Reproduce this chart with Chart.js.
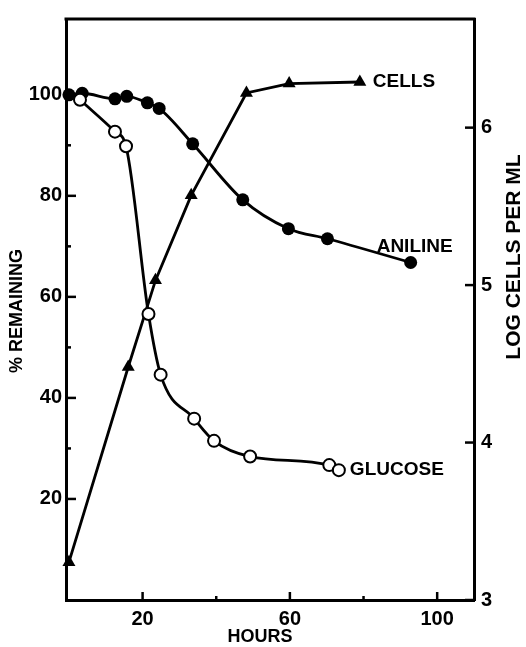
<!DOCTYPE html>
<html>
<head>
<meta charset="utf-8">
<style>
  html, body { margin: 0; padding: 0; background: #fff; }
</style>
</head>
<body>
<canvas id="growthChart" width="526" height="647"></canvas>

<script src="https://cdn.jsdelivr.net/npm/chart.js@4/dist/chart.umd.min.js"></script>

<script>
	// values
	const anilineHours = [0, 3.6, 12.5, 15.7, 21.3, 24.5, 33.6, 47.2, 59.6, 70.2, 92.8]
	const anilinePct = [100, 100.3, 99.2, 99.7, 98.4, 97.3, 90.3, 79.2, 73.5, 71.5, 66.8]

	const glucoseHours = [3.0, 12.5, 15.5, 21.6, 24.9, 34.0, 39.4, 49.2, 70.7, 73.3]
	const glucosePct = [99.0, 92.7, 89.8, 56.6, 44.6, 35.9, 31.5, 28.4, 26.7, 25.7]

	const cellHours = [0, 16.1, 23.5, 33.2, 48.2, 59.8, 79.0]
	const cellLog = [3.24, 4.48, 5.03, 5.57, 6.22, 6.28, 6.29]

	const hourTicks = [20, 60, 100]
	const hourMinor = [40, 80]
	const pctTicks = [20, 40, 60, 80, 100]
	const pctMinor = [30, 50, 70, 90]
	const logTicks = [3, 4, 5, 6]

	const FONT = "'Liberation Sans', Arial, sans-serif"

	function toPoints(xs, ys) {
		return xs.map((x, i) => ({x: x, y: ys[i]}))
	}

	function setTicks(values) {
		return function(scale) {
			scale.ticks = values.map(v => ({value: v}))
		}
	}

	// frame top, inward tick marks, axis titles and curve labels
	const decor = {
		id: "decor",
		afterDraw(chart) {
			const ctx = chart.ctx
			const a = chart.chartArea
			const sx = chart.scales.x, sy = chart.scales.y, sy2 = chart.scales.y2
			ctx.save()
			ctx.strokeStyle = "#000"
			ctx.fillStyle = "#000"
			ctx.lineCap = "butt"

			ctx.lineWidth = 3
			ctx.beginPath()
			ctx.moveTo(a.left - 1.5, a.top)
			ctx.lineTo(a.right + 1.5, a.top)
			ctx.stroke()

			function tick(x1, y1, x2, y2) {
				ctx.beginPath()
				ctx.moveTo(x1, y1)
				ctx.lineTo(x2, y2)
				ctx.stroke()
			}
			ctx.lineWidth = 2.5
			pctTicks.forEach(v => { const y = sy.getPixelForValue(v); tick(a.left, y, a.left + 10, y) })
			pctMinor.forEach(v => { const y = sy.getPixelForValue(v); tick(a.left, y, a.left + 5, y) })
			hourTicks.forEach(v => { const x = sx.getPixelForValue(v); tick(x, a.bottom, x, a.bottom - 8) })
			hourMinor.forEach(v => { const x = sx.getPixelForValue(v); tick(x, a.bottom, x, a.bottom - 4) })
			logTicks.forEach(v => { const y = sy2.getPixelForValue(v); tick(a.right, y, a.right - 9, y) })

			ctx.textBaseline = "middle"
			ctx.textAlign = "center"
			ctx.font = "bold 18px " + FONT
			ctx.fillText("HOURS", (a.left + a.right) / 2 - 10, 637)

			ctx.save()
			ctx.translate(17, 311)
			ctx.rotate(-Math.PI / 2)
			ctx.fillText("% REMAINING", 0, 0)
			ctx.restore()

			ctx.save()
			ctx.font = "bold 21px " + FONT
			ctx.translate(514, 257)
			ctx.rotate(-Math.PI / 2)
			ctx.fillText("LOG CELLS PER ML", 0, 0)
			ctx.restore()

			// curve labels next to their last points
			ctx.font = "bold 19px " + FONT
			ctx.textAlign = "left"
			const n = cellHours.length - 1
			ctx.fillText("CELLS", sx.getPixelForValue(cellHours[n]) + 13, sy2.getPixelForValue(cellLog[n]))
			const m = anilineHours.length - 1
			ctx.fillText("ANILINE", sx.getPixelForValue(anilineHours[m]) - 34, sy.getPixelForValue(anilinePct[m]) - 16)
			const k = glucoseHours.length - 1
			ctx.fillText("GLUCOSE", sx.getPixelForValue(glucoseHours[k]) + 11, sy.getPixelForValue(glucosePct[k]))
			ctx.restore()
		}
	}

	const ctx = document.getElementById("growthChart")
	const growthChart = new Chart(ctx, {
		type: "scatter",
		data: {
			datasets: [{
				label: "Glucose",
				data: toPoints(glucoseHours, glucosePct),
				yAxisID: "y",
				showLine: true,
				cubicInterpolationMode: "monotone",
				borderColor: "#000",
				borderWidth: 2.8,
				pointStyle: "circle",
				pointRadius: 6,
				pointBorderWidth: 2,
				pointBackgroundColor: "#fff",
				pointBorderColor: "#000",
				clip: false
			}, {
				label: "Aniline",
				data: toPoints(anilineHours, anilinePct),
				yAxisID: "y",
				showLine: true,
				cubicInterpolationMode: "monotone",
				borderColor: "#000",
				borderWidth: 2.8,
				pointStyle: "circle",
				pointRadius: 6.5,
				pointBorderWidth: 0,
				pointBackgroundColor: "#000",
				pointBorderColor: "#000",
				clip: false
			}, {
				label: "Cells",
				data: toPoints(cellHours, cellLog),
				yAxisID: "y2",
				showLine: true,
				tension: 0,
				borderColor: "#000",
				borderWidth: 2.8,
				pointStyle: "triangle",
				pointRadius: 7.5,
				pointBorderWidth: 0,
				pointBackgroundColor: "#000",
				pointBorderColor: "#000",
				clip: false
			}]
		},
		options: {
			responsive: false,
			animation: false,
			devicePixelRatio: 1,
			layout: { autoPadding: false, padding: { top: 13, left: 0, right: 0, bottom: 0 } },
			plugins: {
				legend: { display: false },
				tooltip: { enabled: false }
			},
			scales: {
				x: {
					type: "linear",
					position: "bottom",
					min: -0.8,
					max: 110,
					afterBuildTicks: setTicks(hourTicks),
					afterFit: s => { s.height = 47 },
					grid: { display: false, drawTicks: false },
					border: { display: true, width: 3, color: "#000" },
					ticks: { color: "#000", padding: 7, font: { family: FONT, size: 20, weight: "bold" } }
				},
				y: {
					type: "linear",
					position: "left",
					min: 0,
					max: 115,
					afterBuildTicks: setTicks(pctTicks),
					afterFit: s => { s.width = 66 },
					grid: { display: false, drawTicks: false },
					border: { display: true, width: 3, color: "#000" },
					ticks: { color: "#000", padding: 4, font: { family: FONT, size: 20, weight: "bold" } }
				},
				y2: {
					type: "linear",
					position: "right",
					min: 3,
					max: 6.69,
					afterBuildTicks: setTicks(logTicks),
					afterFit: s => { s.width = 52 },
					grid: { display: false, drawTicks: false },
					border: { display: true, width: 3, color: "#000" },
					ticks: { color: "#000", padding: 7, font: { family: FONT, size: 20, weight: "bold" } }
				}
			}
		},
		plugins: [decor]
	})
</script>
</body>
</html>
